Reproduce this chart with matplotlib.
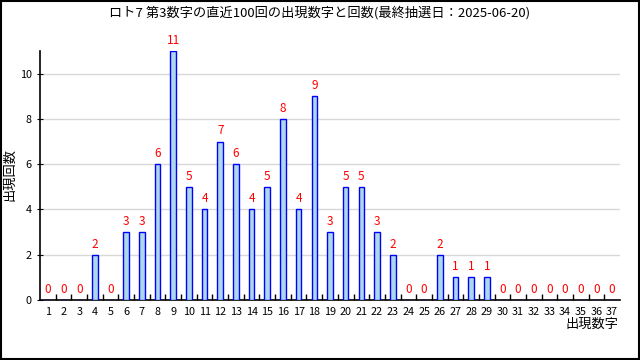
import matplotlib
matplotlib.use("Agg")
import matplotlib.pyplot as plt

numbers = list(range(1, 38))
counts = [0, 0, 0, 2, 0, 3, 3, 6, 11, 5, 4, 7, 6, 4, 5, 8, 4, 9, 3, 5,
          5, 3, 2, 0, 0, 2, 1, 1, 1, 0, 0, 0, 0, 0, 0, 0, 0]
title = "ロト7 第3数字の直近100回の出現数字と回数(最終抽選日：2025-06-20)"
xlabel = "出現数字"
ylabel = "出現回数"

plt.rcParams['font.family'] = ['Noto Sans CJK JP', 'DejaVu Sans']

fig = plt.figure(figsize=(6.4, 3.6), dpi=100)
ax = fig.add_axes([0.0625, 0.1667, 0.90625, 0.6916])

ax.bar(numbers, counts, width=0.36, color='#add8e6', edgecolor='blue', linewidth=1.0, zorder=3)
for n, c in zip(numbers, counts):
    ax.annotate(str(c), (n, c), xytext=(0, 3), textcoords='offset points',
                ha='center', va='bottom', color='red', fontsize=8.5)

ax.set_xlim(0.5, 37.5)
ax.set_ylim(0, 11)
ax.set_yticks(range(0, 11, 2))
ax.set_xticks(numbers)
ax.set_xticks([n + 0.5 for n in numbers[:-1]], minor=True)
ax.tick_params(axis='x', which='major', length=0, labelsize=7.8, pad=5)
ax.tick_params(axis='x', which='minor', direction='in', length=4, width=1)
ax.tick_params(axis='y', direction='inout', length=5, labelsize=7.8)
ax.grid(axis='y', color='#d8d8d8', linewidth=1, zorder=0)
for s in ['top', 'right']:
    ax.spines[s].set_visible(False)
ax.spines['left'].set_linewidth(1.2)
ax.spines['bottom'].set_linewidth(1.2)

fig.text(0.5, 0.965, title, ha='center', va='center', fontsize=9.5)
fig.text(0.016, 0.515, ylabel, rotation=90, ha='center', va='center', fontsize=9.5)
fig.text(0.967, 0.098, xlabel, ha='right', va='center', fontsize=9.5)

fig.patches.append(plt.Rectangle((0.001, 0.002), 0.997, 0.995, transform=fig.transFigure,
                                 fill=False, edgecolor='black', linewidth=1.5))

fig.savefig("out.png", dpi=100)
